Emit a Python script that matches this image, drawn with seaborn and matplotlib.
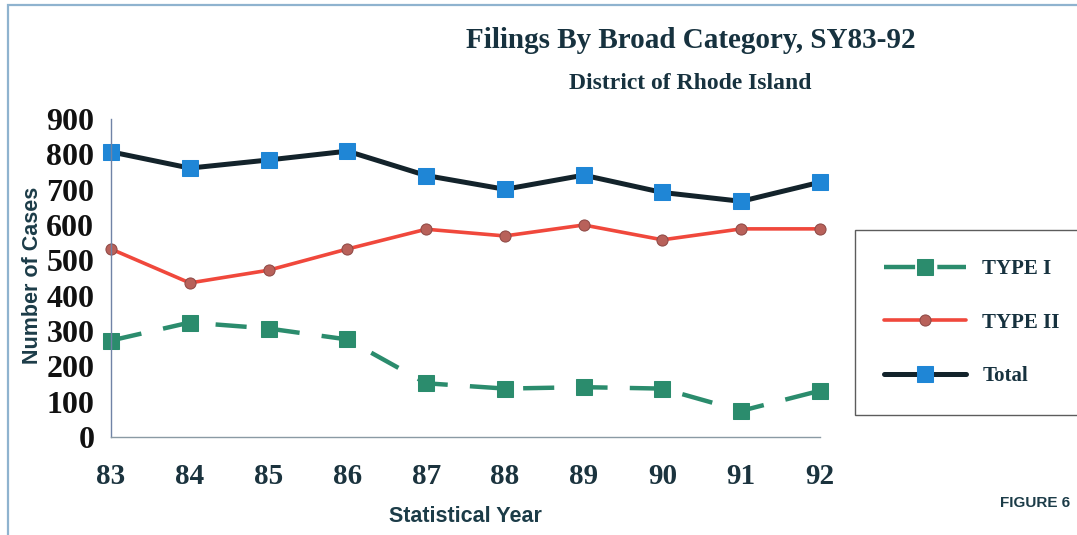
import matplotlib
matplotlib.use("Agg")
import matplotlib.pyplot as plt
from matplotlib.patches import Rectangle
import seaborn as sns
import pandas as pd

# Statistical years and filings per broad category
years = [83, 84, 85, 86, 87, 88, 89, 90, 91, 92]
type_i = [273, 324, 307, 276, 152, 137, 141, 137, 74, 131]
type_ii = [532, 436, 472, 532, 588, 569, 600, 558, 589, 589]
total = [807, 761, 784, 809, 740, 701, 741, 692, 667, 721]

y_ticks = [0, 100, 200, 300, 400, 500, 600, 700, 800, 900]

df = pd.DataFrame({"year": years, "TYPE I": type_i, "TYPE II": type_ii, "Total": total})

sns.set_theme(style="white")
serif = ["Liberation Serif", "DejaVu Serif"]
sans = ["Liberation Sans", "DejaVu Sans"]
plt.rcParams["font.family"] = serif

fig = plt.figure(figsize=(10.77, 5.35), dpi=100)
ax = fig.add_axes([0.1031, 0.1832, 0.6583, 0.5944])

sns.lineplot(data=df, x="year", y="TYPE I", ax=ax, color="#2b8c6d", lw=3.2,
             marker="s", markersize=11, markerfacecolor="#2b8c6d",
             markeredgecolor="#2b8c6d", label="TYPE I", clip_on=False)
sns.lineplot(data=df, x="year", y="TYPE II", ax=ax, color="#f0483c", lw=2.6,
             marker="o", markersize=8, markerfacecolor="#b8615a",
             markeredgecolor="#8f4a46", label="TYPE II", clip_on=False)
sns.lineplot(data=df, x="year", y="Total", ax=ax, color="#13232b", lw=3.6,
             marker="s", markersize=11, markerfacecolor="#1f86d6",
             markeredgecolor="#1f86d6", label="Total", clip_on=False)
ax.lines[0].set_dashes((7, 5))

ax.set_xlim(83, 92)
ax.set_ylim(0, 900)
ax.set_xticks(years)
ax.set_xticklabels([str(y) for y in years])
ax.set_yticks(y_ticks)
ax.set_yticklabels([str(v) for v in y_ticks])

for side in ("top", "right"):
    ax.spines[side].set_visible(False)
ax.spines["left"].set_color("#7083a6")
ax.spines["left"].set_linewidth(1.0)
ax.spines["bottom"].set_color("#8a9aa4")
ax.spines["bottom"].set_linewidth(1.0)

ax.tick_params(axis="y", direction="inout", length=6, width=0.8, color="#7083a6",
               pad=9, labelsize=23, labelcolor="#111111")
ax.tick_params(axis="x", direction="inout", length=9, width=0.8, color="#6e7b85",
               pad=14, labelsize=21, labelcolor="#1b333e")
for lab in ax.get_xticklabels() + ax.get_yticklabels():
    lab.set_fontweight("bold")
    lab.set_family(serif)

ax.set_xlabel("")
ax.set_ylabel("")

# Titles and axis captions
fig.text(0.641, 0.925, "Filings By Broad Category, SY83-92", ha="center", va="center",
         fontsize=21, fontweight="bold", color="#17323f", family=serif)
fig.text(0.641, 0.843, "District of Rhode Island", ha="center", va="center",
         fontsize=17, fontweight="bold", color="#17323f", family=serif)
fig.text(0.030, 0.486, "Number of Cases", ha="center", va="center", rotation=90,
         fontsize=15.5, fontweight="bold", color="#1c3c48", family=sans)
fig.text(0.432, 0.034, "Statistical Year", ha="center", va="center",
         fontsize=15.5, fontweight="bold", color="#1c3c48", family=sans)
fig.text(0.9935, 0.060, "FIGURE 6", ha="right", va="center",
         fontsize=11, fontweight="bold", color="#1c3c48", family=sans)

# Legend box on the right
leg = ax.legend(loc="upper left", bbox_to_anchor=(0.794, 0.243, 0.26, 0.327),
                bbox_transform=fig.transFigure, mode="expand", frameon=True,
                fancybox=False, handlelength=3.9, handletextpad=0.8,
                labelspacing=1.6, borderpad=1.4, borderaxespad=0.0,
                prop={"family": serif, "weight": "bold", "size": 15})
leg.get_frame().set_edgecolor("#333333")
leg.get_frame().set_linewidth(1.0)
for t in leg.get_texts():
    t.set_color("#17323f")

# Outer frame of the figure
fig.patches.append(Rectangle((0.0075, -0.05), 1.1, 1.04, transform=fig.transFigure,
                             fill=False, edgecolor="#8fb3cf", linewidth=1.6))

fig.savefig("out.png", dpi=100)
